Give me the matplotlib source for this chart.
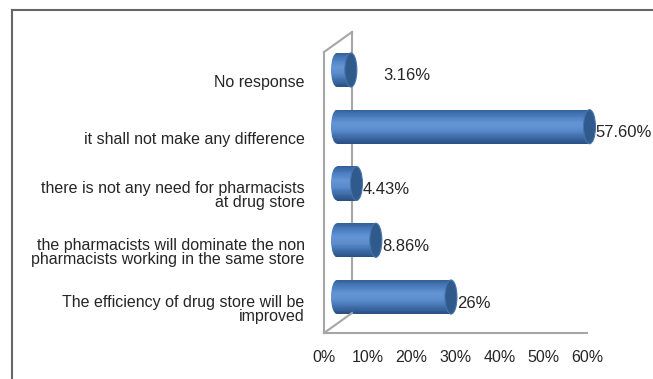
import numpy as np
import matplotlib
matplotlib.use("Agg")
import matplotlib.pyplot as plt
from matplotlib.patches import Ellipse
from matplotlib.lines import Line2D
from matplotlib.colors import LinearSegmentedColormap
from matplotlib import transforms

plt.rcParams['font.family'] = ['Liberation Sans', 'DejaVu Sans']

# data (bottom to top)
categories = [
    "The efficiency of drug store will be\nimproved",
    "the pharmacists will dominate the non\npharmacists working in the same store",
    "there is not any need for pharmacists\nat drug store",
    "it shall not make any difference",
    "No response",
]
values = [26.0, 8.86, 4.43, 57.60, 3.16]
value_labels = ["26%", "8.86%", "4.43%", "57.60%", "3.16%"]
x_ticks = [0, 10, 20, 30, 40, 50, 60]

W, H = 653, 379
fig = plt.figure(figsize=(W / 100, H / 100), dpi=100)

# front plane of the 3d box
ax = fig.add_axes([324 / W, (H - 333) / H, (587 - 324) / W, (333 - 52) / H])
ax.set_xlim(0, 60)
ax.set_ylim(-0.44, 4.51)
for s in ax.spines.values():
    s.set_visible(False)

ax.set_xticks(x_ticks)
ax.set_xticklabels([f"{t}%" for t in x_ticks], fontsize=11.5, color='#262626')
ax.set_yticks(range(len(categories)))
ax.set_yticklabels(categories, fontsize=11.5, color='#262626', linespacing=0.95)
ax.tick_params(length=0)
ax.tick_params(axis='x', pad=12)
ax.tick_params(axis='y', pad=14)

# depth offsets (pixels)
back = transforms.offset_copy(ax.transData, fig=fig, x=28, y=20, units='dots')
mid = transforms.offset_copy(ax.transData, fig=fig, x=13, y=11, units='dots')
lbl = transforms.offset_copy(ax.transData, fig=fig, x=19, y=5, units='dots')

y0, y1 = ax.get_ylim()
gray = '#a6a6a6'
kw = dict(color=gray, lw=1.5, clip_on=False, zorder=1)
ax.plot([0, 0], [y0, y1], **kw)
ax.plot([0, 60], [y0, y0], **kw)
ax.plot([0, 0], [y0, y1], transform=back, **kw)
# diagonals front -> back
for yy in (y0, y1):
    p0 = ax.transData.transform((0, yy))
    p1 = back.transform((0, yy))
    fig.add_artist(Line2D([p0[0] / W, p1[0] / W], [p0[1] / H, p1[1] / H],
                          color=gray, lw=1.5, zorder=1))

# cylinder bars
cmap = LinearSegmentedColormap.from_list(
    'cyl', ['#35619a', '#4c80c2', '#6595d3', '#5a8bcb', '#3f6ea9', '#2b5185'])
bh = 0.6
n = 40
cap_w = 12 / (ax.transData.transform((1, 0))[0] - ax.transData.transform((0, 0))[0])
for i, v in enumerate(values):
    edges = np.linspace(i + bh / 2, i - bh / 2, n + 1)
    left_end = Ellipse((0, i), cap_w, bh, transform=mid)
    for k in range(n):
        c = cmap(k / (n - 1))
        h = edges[k] - edges[k + 1]
        ax.barh(edges[k + 1], v, height=h, align='edge', color=c, edgecolor='none',
                transform=mid, zorder=3, clip_on=False)
        # rounded left end, same shading, clipped to the ellipse
        lb = ax.barh(edges[k + 1], cap_w / 2, left=-cap_w / 2, height=h, align='edge',
                     color=c, edgecolor='none', transform=mid, zorder=3)
        lb[0].set_clip_path(left_end)
    ax.add_patch(Ellipse((v, i), cap_w, bh, facecolor='#30598c', edgecolor='#4673ad',
                         lw=0.8, transform=mid, zorder=4, clip_on=False))

label_nudge = {4: 26}
for i, (v, t) in enumerate(zip(values, value_labels)):
    tr = transforms.offset_copy(lbl, fig=fig, x=label_nudge.get(i, 0), y=0, units='dots')
    ax.text(v, i, t, transform=tr, ha='left', va='center', fontsize=12,
            color='#262626', clip_on=False, zorder=5)

# outer frame (top and left only)
fig.add_artist(Line2D([12 / W, 1.0], [1 - 9.5 / H, 1 - 9.5 / H], color='#666666', lw=1.5))
fig.add_artist(Line2D([12 / W, 12 / W], [0, 1 - 9.5 / H], color='#666666', lw=1.5))

fig.savefig('out.png', dpi=100)
